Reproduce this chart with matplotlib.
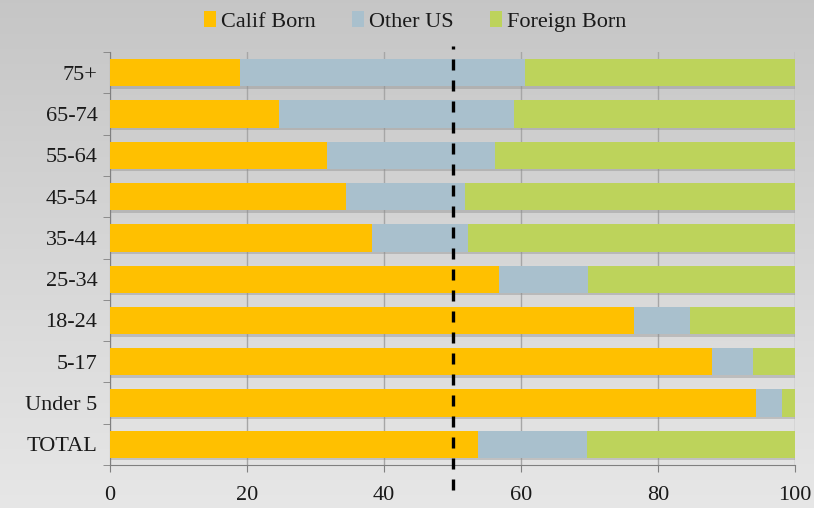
import numpy as np
import matplotlib
matplotlib.use("Agg")
import matplotlib.pyplot as plt
from matplotlib.patches import Patch

categories = ["TOTAL", "Under 5", "5-17", "18-24", "25-34", "35-44", "45-54", "55-64", "65-74", "75+"]
calif_born = [53.7, 94.3, 87.9, 76.5, 56.8, 38.2, 34.5, 31.7, 24.7, 19.0]
other_us = [15.9, 3.8, 6.0, 8.2, 13.0, 14.1, 17.3, 24.5, 34.3, 41.6]
foreign_born = [30.4, 1.9, 6.1, 15.3, 30.2, 47.7, 48.2, 43.8, 41.0, 39.4]
series_names = ["Calif Born", "Other US", "Foreign Born"]
x_ticks = [0, 20, 40, 60, 80, 100]
reference_line = 50

colors = ["#FFC000", "#A9C0CD", "#BDD35B"]
plt.rcParams['font.family'] = ['Liberation Serif', 'DejaVu Serif']

fig = plt.figure(figsize=(8.14, 5.08), dpi=100)

# gradient background
bg = fig.add_axes([0, 0, 1, 1], zorder=-10)
grad = np.linspace(0, 1, 256).reshape(-1, 1)
top = np.array([0.776, 0.776, 0.776])
bot = np.array([0.905, 0.905, 0.905])
img = top + (bot - top) * grad[:, :, None]
bg.imshow(img, aspect='auto', extent=[0, 1, 0, 1])
bg.axis('off')

ax = fig.add_axes([0.1351, 0.0846, 0.8416, 0.813])
ax.patch.set_alpha(0)

y = np.arange(len(categories))
h = 0.66
c = np.array(calif_born)
o = np.array(other_us)
f = np.array(foreign_born)
total = c + o + f

# shadows
ax.barh(y - 0.06, total, height=h, left=0, color="#8c8c8c", alpha=0.4, zorder=2, linewidth=0)
ax.barh(y, c, height=h, color=colors[0], zorder=3, linewidth=0)
ax.barh(y, o, height=h, left=c, color=colors[1], zorder=3, linewidth=0)
ax.barh(y, f, height=h, left=c + o, color=colors[2], zorder=3, linewidth=0)

ax.set_xlim(0, 100)
ax.set_ylim(-0.5, len(categories) - 0.5)
ax.set_xticks(x_ticks)
ax.set_xticklabels([str(t) for t in x_ticks], fontsize=16, color="#1a1a1a")
ax.set_yticks(y)
ax.set_yticklabels(categories, fontsize=16, color="#1a1a1a")
ax.set_yticks(np.arange(-0.5, len(categories), 1), minor=True)
ax.tick_params(axis='y', which='major', length=0, pad=9)
ax.tick_params(axis='y', which='minor', length=5, color="#808080")
ax.tick_params(axis='x', which='major', length=5, color="#808080", pad=10)

ax.grid(axis='x', color="#a6a6a6", linewidth=1, zorder=1)
ax.set_axisbelow(True)
for s in ['top', 'right']:
    ax.spines[s].set_visible(False)
ax.spines['left'].set_color("#808080")
ax.spines['bottom'].set_color("#808080")

# dashed reference line
ax.plot([reference_line, reference_line], [-0.5 - 0.6, len(categories) - 0.5 + 0.15],
        transform=ax.transData, color="black", linewidth=2.4,
        linestyle=(0, (3.3, 3.0)), clip_on=False, zorder=5)

handles = [Patch(facecolor=col, edgecolor='none') for col in colors]
fig.legend(handles, series_names, loc='upper center', bbox_to_anchor=(0.51, 1.018),
           ncol=3, frameon=False, fontsize=16, handlelength=0.55, handleheight=0.75,
           handletextpad=0.25, columnspacing=1.6, labelcolor="#1a1a1a")

fig.savefig("out.png", dpi=100)
